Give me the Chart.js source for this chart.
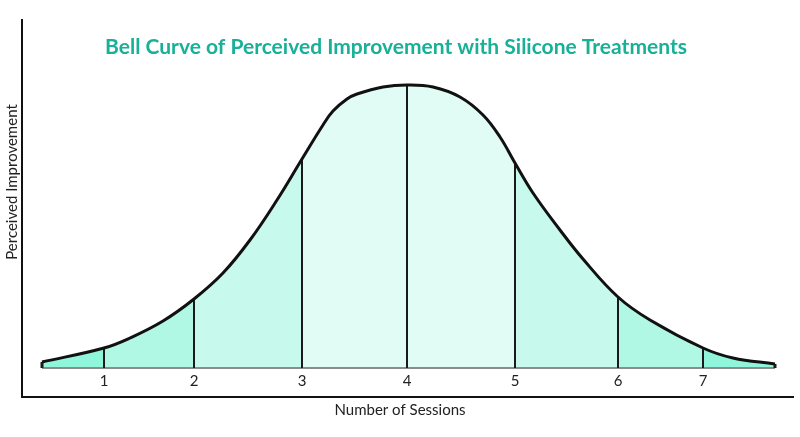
<!DOCTYPE html>
<html>
<head>
<meta charset="utf-8">
<script src="https://cdn.jsdelivr.net/npm/chart.js@4/dist/chart.umd.min.js"></script>
<style>
  body { margin: 0; background: #fff; }
  #wrap { width: 800px; height: 437px; }
</style>
</head>
<body>
<div id="wrap"><canvas id="bellChart"></canvas></div>
<script>
// sampled bell curve (x = session position, y = perceived improvement)
const curveX = [0.35, 0.97, 1.23, 1.56, 1.87, 2.16, 2.43, 2.70, 2.95, 3.16, 3.26, 3.40, 3.50, 3.76, 4.00,
                4.26, 4.53, 4.76, 4.93, 5.08, 5.26, 5.53, 5.76, 6.11, 6.43, 6.96, 7.26, 7.68];
const curveY = [6, 20, 30, 47, 69, 95, 128, 168, 209, 243, 257, 269, 274, 281, 283,
                281, 271, 253, 231, 205, 175, 138, 109, 71, 48, 20, 10, 4];

const tickPositions = [0.97, 1.87, 2.95, 4.00, 5.08, 6.11, 6.96];
const tickLabels = ['1', '2', '3', '4', '5', '6', '7'];

const bandEdges = [0.35, 0.97, 1.87, 2.95, 5.08, 6.11, 6.96, 7.68];
const bandColors = ['#8ff5db', '#b1f8e4', '#c7faec', '#e0fcf4', '#c7faec', '#b1f8e4', '#8ff5db'];

const chartTitle = 'Bell Curve of Perceived Improvement with Silicone Treatments';
const xTitle = 'Number of Sessions';
const yTitle = 'Perceived Improvement';

const points = curveX.map((x, i) => ({ x: x, y: curveY[i] }));
const heightAt = x => curveY[curveX.indexOf(x)];

const datasets = [];

// outline on top
datasets.push({
    data: points,
    borderColor: '#111',
    borderWidth: 3,
    tension: 0.4,
    pointRadius: 0,
    fill: false,
    order: 0
});

// vertical dividers at each session + the two end edges
tickPositions.concat([bandEdges[0], bandEdges[bandEdges.length - 1]]).forEach((p, i) => {
    datasets.push({
        data: [{ x: p, y: 0 }, { x: p, y: heightAt(p) }],
        borderColor: '#1a1a1a',
        borderWidth: i < tickPositions.length ? 2 : 3,
        pointRadius: 0,
        fill: false,
        order: 1
    });
});

// grey baseline
datasets.push({
    data: [{ x: bandEdges[0], y: 0 }, { x: bandEdges[bandEdges.length - 1], y: 0 }],
    borderColor: '#8c8c8c',
    borderWidth: 2,
    pointRadius: 0,
    fill: false,
    order: 2
});

// shaded bands
for (let b = 0; b < bandColors.length; b++) {
    const seg = points.filter(p => p.x >= bandEdges[b] && p.x <= bandEdges[b + 1]);
    datasets.push({
        data: seg,
        borderWidth: 0,
        borderColor: 'rgba(0,0,0,0)',
        backgroundColor: bandColors[b],
        tension: 0.4,
        pointRadius: 0,
        fill: { value: 0 },
        order: 3
    });
}

const annotate = {
    id: 'annotate',
    afterDraw(chart) {
        const { ctx, scales: { x, y } } = chart;
        ctx.save();
        ctx.textAlign = 'center';
        ctx.textBaseline = 'middle';

        ctx.fillStyle = '#19b098';
        ctx.font = 'bold 21px Lato';
        ctx.fillText(chartTitle, 396, 47);

        ctx.fillStyle = '#222';
        ctx.font = '15px Lato';
        tickPositions.forEach((p, i) => {
            ctx.fillText(tickLabels[i], x.getPixelForValue(p), y.getPixelForValue(0) + 13);
        });
        ctx.fillText(xTitle, 400, 410);

        ctx.translate(12, 182);
        ctx.rotate(-Math.PI / 2);
        ctx.fillText(yTitle, 0, 0);
        ctx.restore();
    }
};

new Chart(document.getElementById('bellChart'), {
    type: 'line',
    data: { datasets: datasets },
    options: {
        responsive: true,
        maintainAspectRatio: false,
        animation: false,
        layout: { padding: { left: 22, top: 20, right: 7, bottom: 40 } },
        plugins: {
            legend: { display: false },
            tooltip: { enabled: false },
            title: { display: false }
        },
        scales: {
            x: {
                type: 'linear',
                min: 0.15,
                max: 7.86,
                grid: { display: false, drawTicks: false },
                ticks: { display: false },
                border: { display: true, color: '#111', width: 2 }
            },
            y: {
                type: 'linear',
                min: -29,
                max: 348,
                grid: { display: false, drawTicks: false },
                ticks: { display: false },
                border: { display: true, color: '#111', width: 2 }
            }
        }
    },
    plugins: [annotate]
});
</script>
</body>
</html>
